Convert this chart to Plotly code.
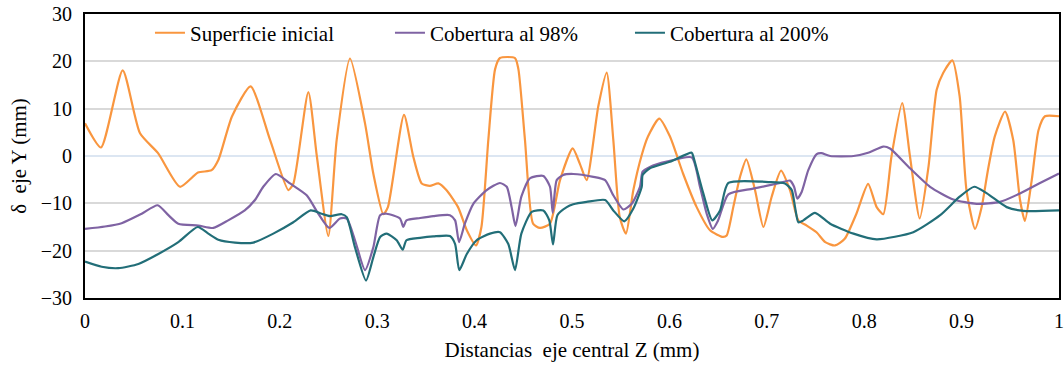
import plotly.graph_objects as go

# ---- Data ----
z_sup = [0, 0.0164, 0.0387, 0.0565, 0.075, 0.0975, 0.116, 0.130, 0.137, 0.151, 0.170, 0.190, 0.2088, 0.214,
         0.2293, 0.238, 0.2498, 0.2584, 0.2721, 0.2875, 0.296, 0.3063, 0.311, 0.3275, 0.337, 0.3457, 0.354,
         0.3628, 0.371, 0.383, 0.392, 0.4014, 0.407, 0.4141, 0.421, 0.426, 0.4415, 0.445, 0.4517, 0.460,
         0.4671, 0.4774, 0.4877, 0.5007, 0.508, 0.515, 0.527, 0.5356, 0.5424, 0.549, 0.5554, 0.563, 0.5716,
         0.578, 0.5896, 0.6006, 0.614, 0.628, 0.6417, 0.655, 0.6588, 0.6656, 0.6725, 0.679, 0.6879, 0.6965,
         0.705, 0.7146, 0.7238, 0.7324, 0.741, 0.751, 0.76, 0.770, 0.780, 0.792, 0.804, 0.8128, 0.8196,
         0.828, 0.839, 0.847, 0.857, 0.866, 0.8744, 0.8812, 0.8905, 0.898, 0.905, 0.9138, 0.9206, 0.927,
         0.934, 0.9446, 0.953, 0.960, 0.965, 0.972, 0.979, 0.9856, 1.0]
y_sup = [6.9, 1.8, 18.1, 4.8, 0.6, -6.5, -3.5, -3.0, -0.8, 8.4, 14.7, 3.4, -7.2, -5.8,
         13.5, 0, -16.9, 3.4, 20.6, 6.9, -3.7, -12.3, -10.8, 8.7, -0.1, -5.8, -6.3,
         -5.8, -7.2, -10.8, -15.7, -18.9, -15.0, 3.4, 18.3, 20.7, 20.7, 18.3, 3.4, -14.3,
         -15.2, -14.3, -5.1, 1.6, -1.6, -5.1, 10.5, 17.6, 3.4, -12.9, -16.4, -7.2, 0.2,
         4.1, 7.9, 4.1, -3.7, -10.8, -15.7, -17.1, -16.8, -10.8, -4.4, -0.7, -7.2, -15.0,
         -8.6, -3.1, -7.2, -13.6, -14.7, -16.1, -18.2, -18.9, -17.5, -12.2, -5.9, -10.8, -12.3,
         -0.1, 11.2, -0.1, -13.2, -2.3, 14.0, 17.6, 20.2, 12.6, -7.2, -15.4, -10.8, -3.0,
         4.1, 9.4, 3.4, -9.3, -13.7, -5.1, 5.5, 8.4, 8.4]

z_98 = [0, 0.0205, 0.0376, 0.0582, 0.0746, 0.0856, 0.0958, 0.1164, 0.1318, 0.147, 0.164, 0.1745, 0.183,
        0.196, 0.2105, 0.2276, 0.2396, 0.2508, 0.2618, 0.2687, 0.2772, 0.2875, 0.296, 0.303, 0.3097,
        0.3234, 0.3268, 0.330, 0.344, 0.3576, 0.3747, 0.38, 0.384, 0.390, 0.3987, 0.4124, 0.426, 0.433,
        0.438, 0.442, 0.448, 0.4569, 0.4706, 0.4774, 0.4802, 0.4843, 0.491, 0.5013, 0.5219, 0.534,
        0.5424, 0.5527, 0.5613, 0.5698, 0.5725, 0.580, 0.5972, 0.6229, 0.6314, 0.6383, 0.6445, 0.650,
        0.6605, 0.686, 0.7136, 0.7238, 0.728, 0.7313, 0.7358, 0.7426, 0.7512, 0.756, 0.765, 0.789,
        0.804, 0.8196, 0.8265, 0.847, 0.8676, 0.8915, 0.9155, 0.9394, 0.960, 0.9805, 1.0]
y_98 = [-15.4, -14.9, -14.2, -12.2, -10.4, -12.5, -14.3, -14.7, -15.2, -13.6, -11.5, -9.3, -6.5,
        -3.8, -5.8, -8.3, -12.2, -15.2, -13.2, -13.2, -17.8, -24.1, -19.3, -12.5, -12.2,
        -13.2, -15.0, -13.6, -13.1, -12.7, -12.5, -13.6, -18.2, -14.3, -10.1, -7.2, -5.7, -6.5,
        -10.8, -14.8, -8.6, -4.7, -4.2, -6.5, -12.0, -5.1, -4.0, -3.8, -4.4, -5.1,
        -8.3, -11.3, -10.1, -6.5, -3.3, -2.3, -1.2, -0.3, -6.5, -12.2, -15.4, -13.6,
        -8.1, -6.9, -5.7, -5.2, -6.5, -9.0, -7.6, -3.0, 0.4, 0.6, 0, 0,
        0.7, 2.0, 1.6, -2.6, -6.5, -9.2, -10.1, -9.7, -7.9, -5.7, -3.7]

z_200 = [0, 0.0171, 0.0342, 0.0548, 0.0753, 0.0958, 0.1157, 0.1266, 0.1369, 0.154, 0.1728, 0.1933,
         0.2139, 0.2317, 0.243, 0.2515, 0.2635, 0.2687, 0.2772, 0.2885, 0.296, 0.303, 0.3097, 0.32,
         0.3262, 0.330, 0.344, 0.3576, 0.3747, 0.38, 0.3843, 0.392, 0.4021, 0.4158, 0.426, 0.4346,
         0.4415, 0.448, 0.4586, 0.4706, 0.4767, 0.4805, 0.485, 0.4946, 0.5013, 0.515, 0.534, 0.5424,
         0.5537, 0.563, 0.5716, 0.5725, 0.580, 0.6006, 0.6229, 0.6245, 0.6348, 0.644, 0.652, 0.6605,
         0.7033, 0.7187, 0.7256, 0.729, 0.7324, 0.7375, 0.7495, 0.765, 0.789, 0.8128, 0.8504, 0.878,
         0.898, 0.913, 0.926, 0.9463, 0.9634, 1.0]
y_200 = [-22.3, -23.4, -23.7, -22.8, -20.7, -18.2, -15.0, -16.4, -17.7, -18.3, -18.3, -16.4,
         -14.0, -11.5, -12.2, -12.7, -12.3, -12.9, -19.3, -26.3, -21.4, -17.1, -16.4, -17.8,
         -19.8, -17.8, -17.3, -17.0, -16.9, -18.6, -24.1, -20.7, -17.8, -16.4, -16.1, -18.6,
         -24.1, -16.4, -11.8, -11.5, -13.6, -18.7, -12.5, -10.8, -10.2, -9.7, -9.3, -11.5,
         -13.8, -11.1, -6.5, -4.0, -2.6, -1.2, 0.7, -0.1, -7.9, -13.6, -11.5, -5.7,
         -5.5, -5.8, -7.2, -10.8, -14.0, -13.6, -12.0, -14.3, -16.4, -17.6, -16.1, -12.5,
         -8.6, -6.5, -7.9, -10.8, -11.6, -11.5]

names = ["Superficie inicial", "Cobertura al 98%", "Cobertura al 200%"]
colors = ["#F9963F", "#7F63A3", "#226E78"]
x_ticks = [0, 0.1, 0.2, 0.3, 0.4, 0.5, 0.6, 0.7, 0.8, 0.9, 1]
x_ticktext = ["0", "0.1", "0.2", "0.3", "0.4", "0.5", "0.6", "0.7", "0.8", "0.9", "1"]
y_ticks = [-30, -20, -10, 0, 10, 20, 30]

FONT = '"Liberation Serif", "Times New Roman", "DejaVu Serif", Times, serif'

fig = go.Figure()
for zs, ys, nm, col in [(z_sup, y_sup, names[0], colors[0]),
                        (z_98, y_98, names[1], colors[1]),
                        (z_200, y_200, names[2], colors[2])]:
    fig.add_trace(go.Scatter(x=zs, y=ys, mode="lines", name=nm,
                             line=dict(color=col, width=2.2, shape="spline", smoothing=0.6)))

fig.update_layout(
    width=1064, height=365,
    margin=dict(l=85, r=5, t=14, b=67, autoexpand=False),
    paper_bgcolor="white", plot_bgcolor="white",
    font=dict(family=FONT, size=21, color="black"),
    legend=dict(orientation="h", x=0.0667, y=1.005, xanchor="left", yanchor="top",
                bgcolor="rgba(0,0,0,0)", entrywidth=195, entrywidthmode="pixels",
                font=dict(family=FONT, size=21, color="black")),
    showlegend=True,
)
fig.update_xaxes(range=[0, 1], tickvals=x_ticks, ticktext=x_ticktext, showgrid=False,
                 zeroline=False, showline=True, linecolor="black", linewidth=2, mirror=True,
                 ticks="", automargin=False, ticklabelstandoff=4, ticklabeloverflow="allow",
                 tickfont=dict(family=FONT, size=20),
                 title=dict(text="Distancias\u00a0 eje central Z (mm)", standoff=11,
                            font=dict(family=FONT, size=21)))
fig.update_yaxes(range=[-30, 30], tickvals=y_ticks, showgrid=True, gridcolor="#D9D9D9", gridwidth=1.5,
                 zeroline=True, zerolinecolor="#DCE6F2", zerolinewidth=1.5, automargin=False,
                 showline=True, linecolor="black", linewidth=2, mirror=True, ticks="",
                 ticklabelstandoff=7, ticklabeloverflow="allow",
                 tickfont=dict(family=FONT, size=20),
                 title=dict(text="\u03b4\u00a0 eje Y (mm)", standoff=8, font=dict(family=FONT, size=21)))

# remove the page's default 8px body margin so the figure fills the window exactly
fig.write_html("out.html", config={"displayModeBar": False},
               post_script="document.body.style.margin='0px';")
